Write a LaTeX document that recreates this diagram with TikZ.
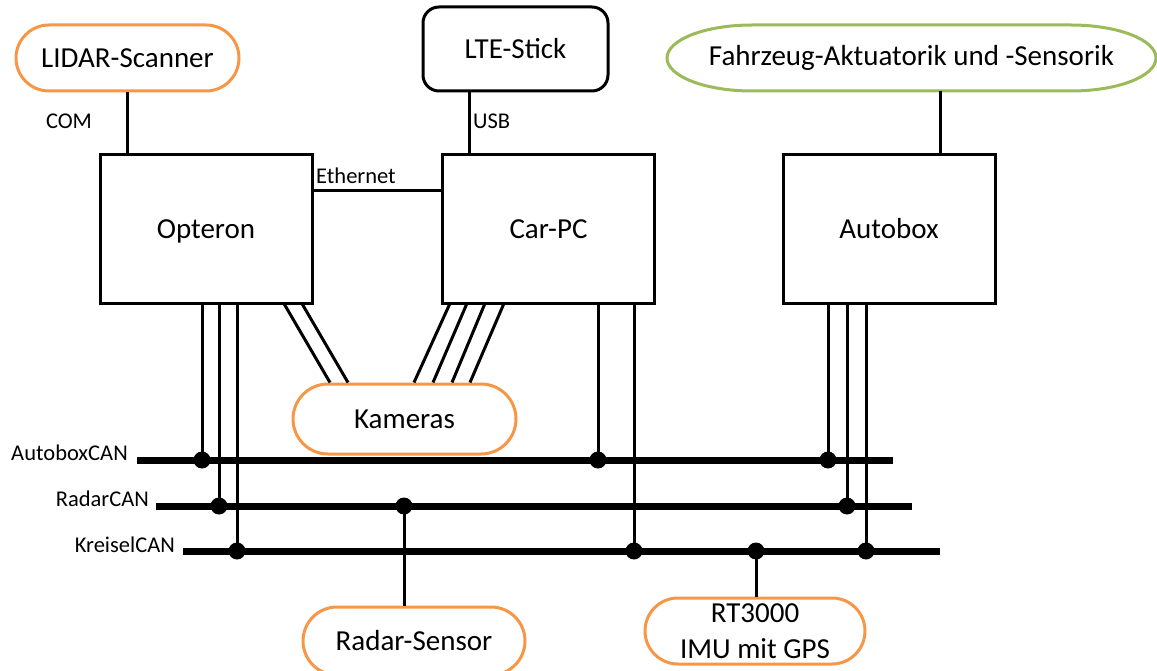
\documentclass[tikz,border=0pt]{standalone}
\usepackage{fontspec}
\setmainfont{Carlito}
\usetikzlibrary{shapes.misc,calc}
\definecolor{orng}{HTML}{F79646}
\definecolor{grn}{HTML}{9BBB59}
\begin{document}
\begin{tikzpicture}[x=1pt,y=-1pt,
  big/.style={font=\fontsize{29}{36}\selectfont},
  small/.style={font=\fontsize{22.5}{26}\selectfont, inner sep=0pt},
  unit/.style={draw, line width=3pt, minimum width=212pt, minimum height=148pt, big, text depth=0pt, text height=19pt},
  device/.style={rounded rectangle, draw=orng, line width=3pt, big, inner sep=0pt},
  wire/.style={line width=3pt},
  bus/.style={line width=7pt},
  dot/.style={circle, fill, inner sep=0pt, minimum size=17pt}]
\useasboundingbox (0,0) rectangle (1157,671);

% main units
\node[unit] (opt) at (206,229) {Opteron};
\node[unit] (cpc) at (548.5,229) {Car-PC};
\node[unit] (abx) at (889,229) {Autobox};

% peripherals
\node[device, minimum width=223pt, minimum height=66pt] (lidar) at (127.5,58) {LIDAR-Scanner};
\node[draw, rounded corners=16pt, line width=3pt, minimum width=185pt, minimum height=84pt, big] (lte) at (515.5,49) {LTE-Stick};
\node[big] (fzg) at (911.5,58) {Fahrzeug-Aktuatorik und -Sensorik};
\draw[draw=grn, line width=3pt] (752,25) -- (1071,25)
  arc[start angle=90, end angle=-90, x radius=85pt, y radius=33pt] -- (752,91)
  arc[start angle=270, end angle=90, x radius=85pt, y radius=33pt] -- cycle;
\coordinate (fzgb) at (940,91);
\node[device, minimum width=223pt, minimum height=70pt] (kam) at (404.5,419) {Kameras};
\node[device, minimum width=222pt, minimum height=68pt] (radar) at (414,641) {Radar-Sensor};
\node[device, minimum width=220pt, minimum height=66pt, align=center] (rt) at (755,631) {RT3000\\IMU mit GPS};

% top connectors
\draw[wire] (lidar.south) -- (lidar.south |- opt.north);
\node[small] (com) at (69,121) {COM};
\draw[wire] ($(lte.south)+(-46.5,0)$) -- ($(lte.south |- cpc.north)+(-46.5,0)$);
\node[small, anchor=west] (usb) at (473,121) {USB};
\draw[wire] (fzgb) -- (fzgb |- abx.north);
\draw[wire] ($(opt.north east)+(0,37)$) -- ($(cpc.north west)+(0,37)$);
\node[small, anchor=west] (eth) at (316,176) {Ethernet};

% cameras
\draw[wire] ($(opt.south west)+(186,0)$) -- ($(kam.north)+(-74.5,0)$);
\draw[wire] ($(opt.south west)+(204,0)$) -- ($(kam.north)+(-56.5,0)$);
\draw[wire] ($(cpc.south west)+(8.5,0)$) -- ($(kam.north)+(9.5,0)$);
\draw[wire] ($(cpc.south west)+(25.5,0)$) -- ($(kam.north)+(28.5,0)$);
\draw[wire] ($(cpc.south west)+(43.5,0)$) -- ($(kam.north)+(47.5,0)$);
\draw[wire] ($(cpc.south west)+(62.5,0)$) -- ($(kam.north)+(65.5,0)$);

% buses
\coordinate (abL) at (137,460); \coordinate (abR) at (893,460);
\coordinate (raL) at (156,506); \coordinate (raR) at (912,506);
\coordinate (krL) at (183,551); \coordinate (krR) at (940,551);
\draw[bus] (abL) -- (abR);
\draw[bus] (raL) -- (raR);
\draw[bus] (krL) -- (krR);
\node[small, anchor=east] (labA) at (128,453) {AutoboxCAN};
\node[small, anchor=east] (labR) at (149,499) {RadarCAN};
\node[small, anchor=east] (labK) at (175,545) {KreiselCAN};

% taps
\node[dot] (o1) at (202,460) {};
\node[dot] (o2) at (219,506) {};
\node[dot] (o3) at (237,551) {};
\node[dot] (c1) at (598,460) {};
\node[dot] (c2) at (634,551) {};
\node[dot] (b1) at (828,460) {};
\node[dot] (b2) at (847,506) {};
\node[dot] (b3) at (866,551) {};
\node[dot] (r1) at (404,506) {};
\node[dot] (g1) at (756,551) {};
\foreach \d in {o1,o2,o3} \draw[wire] (\d |- opt.south) -- (\d.center);
\foreach \d in {c1,c2} \draw[wire] (\d |- cpc.south) -- (\d.center);
\foreach \d in {b1,b2,b3} \draw[wire] (\d |- abx.south) -- (\d.center);
\draw[wire] (r1.center) -- (r1 |- radar.north);
\draw[wire] (g1.center) -- (g1 |- rt.north);
\end{tikzpicture}
\end{document}
